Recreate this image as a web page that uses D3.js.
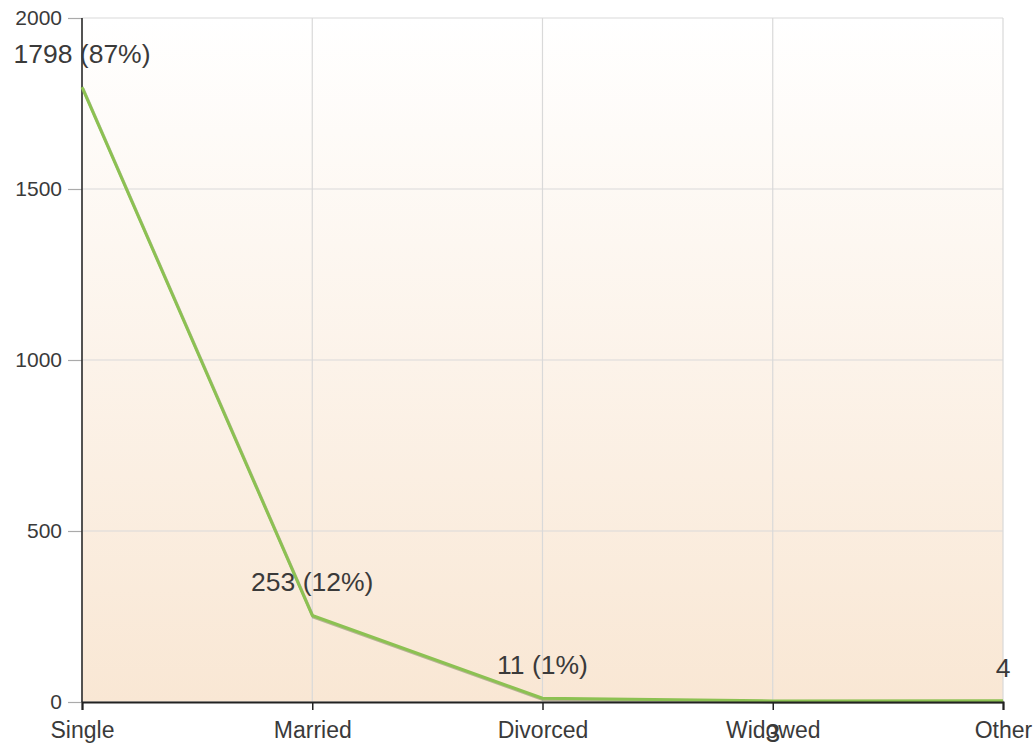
<!DOCTYPE html>
<html>
<head>
<meta charset="utf-8">
<script src="https://cdn.jsdelivr.net/npm/d3@7"></script>
<style>
  html, body { margin: 0; padding: 0; background: #fff; }
  svg { display: block; font-family: "Liberation Sans", Arial, sans-serif; }
</style>
</head>
<body>
<div id="wrapper"></div>
<script>
// data
const categories = ["Single", "Married", "Divorced", "Widowed", "Other"];
const counts = [1798, 253, 11, 3, 4];
const yTicks = [0, 500, 1000, 1500, 2000];

function drawChart() {
	const width = 1035;
	const height = 746;
	const margin = { top: 18, right: 32, bottom: 44, left: 82 };
	const innerW = width - margin.left - margin.right;
	const innerH = height - margin.top - margin.bottom;

	const svg = d3.select("#wrapper")
		.append("svg")
		.attr("width", width)
		.attr("height", height);

	const defs = svg.append("defs");
	const grad = defs.append("linearGradient")
		.attr("id", "bg")
		.attr("x1", 0).attr("y1", 0).attr("x2", 0).attr("y2", 1);
	grad.append("stop").attr("offset", "0%").attr("stop-color", "#ffffff");
	grad.append("stop").attr("offset", "100%").attr("stop-color", "#f9e7d4");

	const g = svg.append("g")
		.attr("transform", `translate(${margin.left},${margin.top})`);

	const x = d3.scalePoint().domain(categories).range([0, innerW]);
	const y = d3.scaleLinear().domain([0, 2000]).range([innerH, 0]);

	g.append("rect")
		.attr("width", innerW)
		.attr("height", innerH)
		.attr("fill", "url(#bg)");

	// grid
	g.selectAll(".hgrid")
		.data(yTicks)
		.enter()
		.append("line")
		.attr("x1", 0).attr("x2", innerW)
		.attr("y1", d => y(d)).attr("y2", d => y(d))
		.attr("stroke", "#d9d9d9")
		.attr("stroke-width", 1.2);

	g.selectAll(".vgrid")
		.data(categories)
		.enter()
		.append("line")
		.attr("x1", d => x(d)).attr("x2", d => x(d))
		.attr("y1", 0).attr("y2", innerH)
		.attr("stroke", "#d9d9d9")
		.attr("stroke-width", 1.2);

	// y axis
	const yAxis = g.append("g")
		.call(d3.axisLeft(y).tickValues(yTicks).tickFormat(d3.format("d")).tickSize(14).tickPadding(6));
	yAxis.select(".domain").remove();
	yAxis.selectAll(".tick line").attr("stroke", "#aaaaaa").attr("stroke-width", 1.2);
	yAxis.selectAll(".tick text")
		.attr("fill", "#3a3a3a")
		.style("font-size", "21px")
		.style("font-family", "'Liberation Sans', Arial, sans-serif");
	g.append("line")
		.attr("x1", 0).attr("x2", 0)
		.attr("y1", 0).attr("y2", innerH)
		.attr("stroke", "#222")
		.attr("stroke-width", 1.5);

	// line with a soft shadow
	const line = d3.line()
		.x((d, i) => x(categories[i]))
		.y(d => y(d));

	g.append("path")
		.datum(counts)
		.attr("d", line)
		.attr("fill", "none")
		.attr("stroke", "rgba(60,80,30,0.35)")
		.attr("stroke-width", 3)
		.attr("transform", "translate(1,1.5)");

	g.append("path")
		.datum(counts)
		.attr("d", line)
		.attr("fill", "none")
		.attr("stroke", "#8cc152")
		.attr("stroke-width", 3)
		.attr("stroke-linejoin", "round");

	// x axis
	const xAxis = g.append("g")
		.attr("transform", `translate(0,${innerH})`)
		.call(d3.axisBottom(x).tickSize(8).tickPadding(12));
	xAxis.select(".domain").attr("stroke", "#222").attr("stroke-width", 2);
	xAxis.selectAll(".tick line").attr("stroke", "#222").attr("stroke-width", 1.5);
	xAxis.selectAll(".tick text")
		.attr("fill", "#3a3a3a")
		.style("font-size", "23px")
		.style("font-family", "'Liberation Sans', Arial, sans-serif");

	// value labels
	const total = d3.sum(counts);
	g.selectAll(".val")
		.data(counts)
		.enter()
		.append("text")
		.attr("class", "val")
		.attr("x", (d, i) => x(categories[i]))
		.attr("y", (d, i) => categories[i] === "Widowed" ? innerH + 40 : y(d) - 24)
		.attr("text-anchor", "middle")
		.attr("fill", "#3a3a3a")
		.style("font-size", "26.5px")
		.text(d => {
			const pct = Math.round(d / total * 100);
			return pct > 0 ? `${d} (${pct}%)` : `${d}`;
		});
}

drawChart();
</script>
</body>
</html>
